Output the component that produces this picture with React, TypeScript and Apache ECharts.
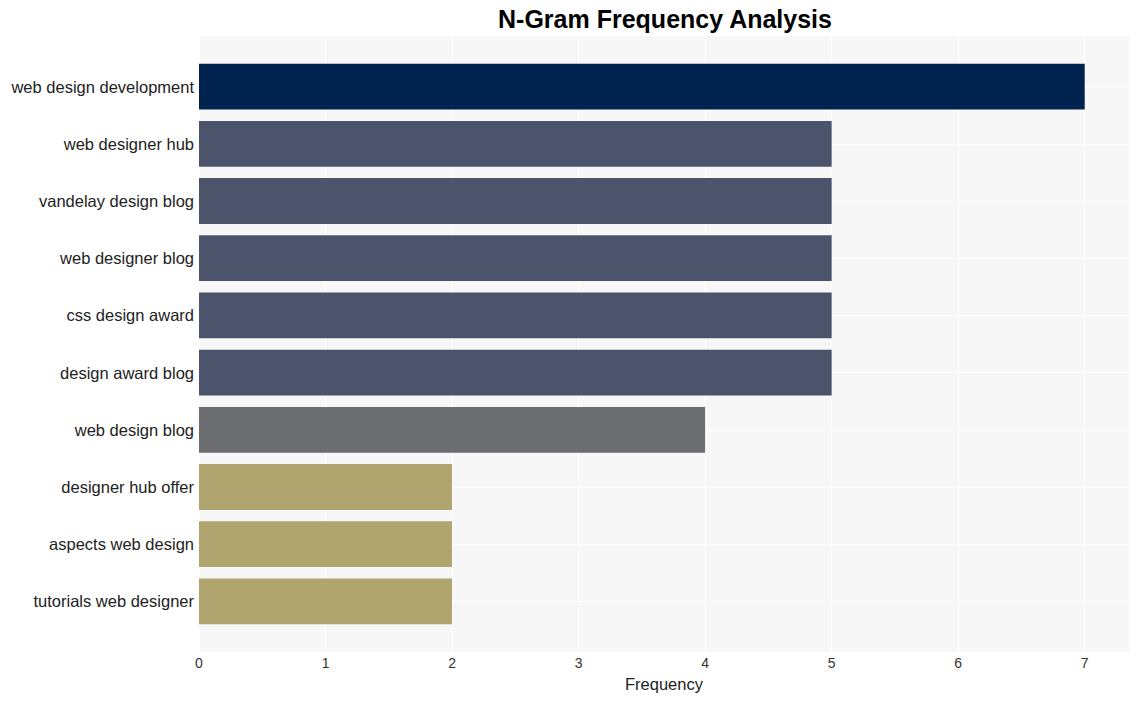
import React, { useEffect, useRef } from "react";
import * as echarts from "echarts";

const categories = [
  "web design development",
  "web designer hub",
  "vandelay design blog",
  "web designer blog",
  "css design award",
  "design award blog",
  "web design blog",
  "designer hub offer",
  "aspects web design",
  "tutorials web designer",
];
const frequencies = [7, 5, 5, 5, 5, 5, 4, 2, 2, 2];
const barColors = [
  "#00224E",
  "#4C546C",
  "#4C546C",
  "#4C546C",
  "#4C546C",
  "#4C546C",
  "#6C6D71",
  "#B0A46F",
  "#B0A46F",
  "#B0A46F",
];
const xTicks = [0, 1, 2, 3, 4, 5, 6, 7];
const xMax = 7.35;

export default function App() {
  const ref = useRef<HTMLDivElement>(null);
  useEffect(() => {
    if (!ref.current) return;
    const chart = echarts.init(ref.current, undefined, { renderer: "svg" });
    const font = "Liberation Sans, Arial, Helvetica, sans-serif";
    chart.setOption({
      animation: false,
      backgroundColor: "#ffffff",
      title: {
        text: "N-Gram Frequency Analysis",
        left: 660,
        textAlign: "center",
        top: 1,
        textStyle: { fontFamily: font, fontWeight: "bold", fontSize: 25, color: "#000" },
      },
      grid: [
        {
          left: 199,
          right: 10,
          top: 36,
          height: 616,
          show: true,
          backgroundColor: "#F7F7F7",
          borderWidth: 0,
        },
        {
          left: 199,
          right: 10,
          top: 58,
          height: 572,
        },
      ],
      xAxis: [
        {
          gridIndex: 0,
          type: "value",
          min: 0,
          max: xMax,
          interval: 1,
          axisLine: { show: false },
          axisTick: { show: false },
          axisLabel: {
            margin: 4,
            fontFamily: font,
            fontSize: 14,
            color: "#333",
            formatter: (v: number) => (xTicks.includes(v) ? String(v) : ""),
            showMaxLabel: false,
          },
          splitLine: { show: true, lineStyle: { color: "#FFFFFF", width: 1 } },
          name: "Frequency",
          nameLocation: "middle",
          nameGap: 23,
          nameTextStyle: { fontFamily: font, fontSize: 16.5, color: "#222" },
        },
        {
          gridIndex: 1,
          type: "value",
          min: 0,
          max: xMax,
          show: false,
          splitLine: { show: false },
        },
      ],
      yAxis: [
        {
          gridIndex: 0,
          type: "value",
          show: false,
          splitLine: { show: false },
        },
        {
          gridIndex: 1,
          type: "category",
          data: categories,
          inverse: true,
          axisLine: { show: false },
          axisTick: { show: false },
          splitLine: { show: false },
          axisLabel: {
            margin: 5,
            fontFamily: font,
            fontSize: 16.5,
            color: "#222",
          },
        },
      ],
      series: [
        {
          type: "line",
          xAxisIndex: 1,
          yAxisIndex: 1,
          data: [],
          z: 1,
          silent: true,
          markLine: {
            z: 1,
            silent: true,
            symbol: "none",
            label: { show: false },
            lineStyle: { color: "#FFFFFF", width: 1, type: "solid" },
            data: categories.map((c) => ({ yAxis: c })),
          },
        },
        {
          type: "bar",
          xAxisIndex: 1,
          yAxisIndex: 1,
          z: 3,
          barWidth: "80%",
          data: frequencies.map((v, i) => ({
            value: v,
            itemStyle: { color: barColors[i] },
          })),
        },
      ],
    });
    return () => chart.dispose();
  }, []);
  return <div ref={ref} style={{ width: 1139, height: 701, position: "absolute", left: 0, top: 0 }} />;
}
